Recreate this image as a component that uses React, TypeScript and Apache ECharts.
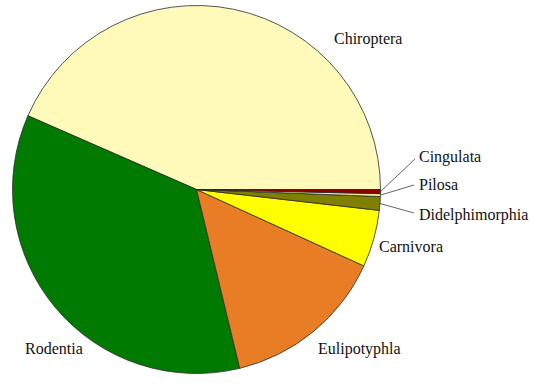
import React, { useEffect, useRef } from "react";
import * as echarts from "echarts";

// Orders of mammals (share of species, %)
const categories = [
  "Chiroptera",
  "Rodentia",
  "Eulipotyphla",
  "Carnivora",
  "Didelphimorphia",
  "Pilosa",
  "Cingulata",
];
const shares = [43.4, 35.3, 14.4, 5.0, 1.2, 0.25, 0.36];
const sliceColors = [
  "#FFFAB9",
  "#007A00",
  "#E87D26",
  "#FFFF00",
  "#7F7F00",
  "#F6F49A",
  "#8E0000",
];
const withLeader = ["Didelphimorphia", "Pilosa", "Cingulata"];

// label placement (left edge x, vertical centre y) and leader end points
const labelSpots: Record<string, { x: number; y: number; end?: [number, number] }> = {
  Chiroptera: { x: 334, y: 38 },
  Rodentia: { x: 25, y: 348 },
  Eulipotyphla: { x: 318, y: 348 },
  Carnivora: { x: 379, y: 246 },
  Didelphimorphia: { x: 419, y: 214, end: [414, 213] },
  Pilosa: { x: 419, y: 184, end: [414, 185] },
  Cingulata: { x: 419, y: 156, end: [415, 159] },
};

const SERIF = "Liberation Serif";

export default function App() {
  const ref = useRef<HTMLDivElement>(null);

  useEffect(() => {
    if (!ref.current) return;
    const chart = echarts.init(ref.current, undefined, { renderer: "svg" });
    const data = categories.map((name, i) => ({
      name,
      value: shares[i],
      itemStyle: { color: sliceColors[i] },
      label: { fontFamily: SERIF, fontSize: 16 },
      labelLine: { show: withLeader.includes(name) },
    }));
    chart.setOption({
      animation: false,
      backgroundColor: "#ffffff",
      textStyle: { fontFamily: SERIF },
      series: [
        {
          type: "pie",
          center: [196.5, 189.5],
          radius: 184,
          startAngle: 0,
          clockwise: false,
          avoidLabelOverlap: false,
          minAngle: 0,
          itemStyle: { borderColor: "#2b2b2b", borderWidth: 0.8 },
          emphasis: { disabled: true },
          label: {
            show: true,
            position: "outside",
            formatter: "{b}",
            fontFamily: SERIF,
            fontSize: 16,
            color: "#111111",
          },
          labelLine: {
            show: true,
            length: 10,
            length2: 10,
            lineStyle: { color: "#666666", width: 1 },
          },
          labelLayout: (params: any) => {
            const name = categories[params.dataIndex];
            const spot = labelSpots[name];
            if (!spot) return {};
            const out: any = {
              x: spot.x,
              y: spot.y,
              align: "left",
              verticalAlign: "middle",
            };
            if (spot.end) {
              const start =
                params.labelLinePoints && params.labelLinePoints[0]
                  ? params.labelLinePoints[0]
                  : [377, 190];
              out.labelLinePoints = [
                [start[0], start[1]],
                [(start[0] + spot.end[0]) / 2, (start[1] + spot.end[1]) / 2],
                [spot.end[0], spot.end[1]],
              ];
            }
            return out;
          },
          data,
        },
      ],
    });
    return () => chart.dispose();
  }, []);

  return (
    <div
      ref={ref}
      style={{ position: "fixed", left: 0, top: 0, width: 534, height: 387 }}
    />
  );
}
